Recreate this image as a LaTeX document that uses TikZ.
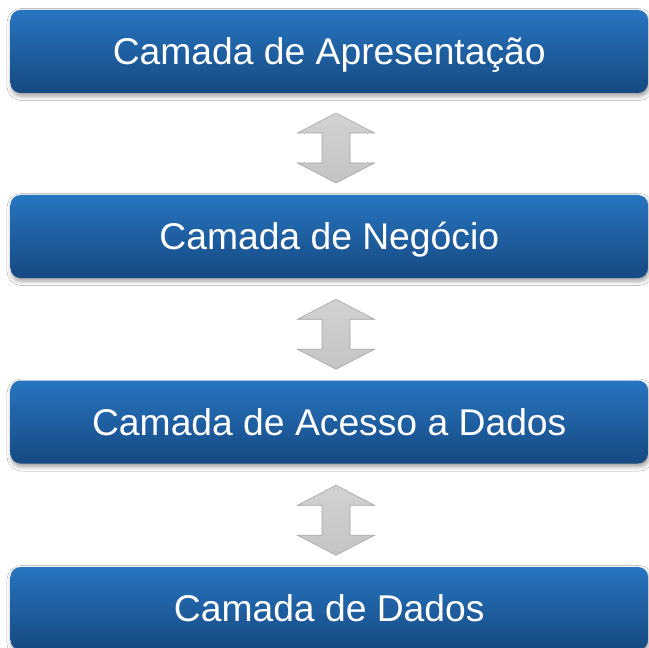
\documentclass[tikz,border=0pt]{standalone}
\usepackage{fontspec}
\setmainfont{Liberation Sans}
\usetikzlibrary{calc,shadows.blur}
\definecolor{boxtop}{RGB}{39,117,192}
\definecolor{boxbot}{RGB}{22,73,130}
\definecolor{arrtop}{RGB}{210,210,210}
\definecolor{arrbot}{RGB}{196,196,196}
\definecolor{arredge}{RGB}{165,165,165}
\tikzset{
  layerbox/.style={rounded corners=10bp, minimum width=637.5bp, minimum height=83bp,
    top color=boxtop, bottom color=boxbot, text=white, inner sep=0pt,
    text height=26.8bp, text depth=0bp,
    font=\fontsize{37.4}{44}\selectfont,
    blur shadow={shadow xshift=1bp, shadow yshift=-3bp, shadow blur radius=4.5bp, shadow opacity=40}},
  blockarrow/.style={top color=arrtop, bottom color=arrbot, draw=arredge, line width=0.6bp, line join=miter}
}
\newcommand{\dblarrow}[1]{%
  \begin{scope}[shift={(#1)}]
    \path[blockarrow] (0,-35) -- (38.5,-15) -- (14,-15) -- (14,15) -- (38.5,15) -- (0,35)
      -- (-38.5,15) -- (-14,15) -- (-14,-15) -- (-38.5,-15) -- cycle;
  \end{scope}}
\begin{document}
\begin{tikzpicture}[x=1bp,y=-1bp]
  \useasboundingbox[fill=white] (0,0) rectangle (649,648);
  \node[layerbox] (b1) at (329.25,51.5) {Camada de Apresentação};
  \node[layerbox] (b2) at (329.25,236.5) {Camada de Negócio};
  \node[layerbox] (b3) at (329.25,422) {Camada de Acesso a Dados};
  \node[layerbox] (b4) at (329.25,608.5) {Camada de Dados};
  \coordinate (a1) at ($(b1.south)!0.5!(b2.north)+(6.75,4)$);
  \coordinate (a2) at ($(b2.south)!0.5!(b3.north)+(6.75,5)$);
  \coordinate (a3) at ($(b3.south)!0.5!(b4.north)+(6.75,5)$);
  \dblarrow{a1}
  \dblarrow{a2}
  \dblarrow{a3}
\end{tikzpicture}
\end{document}
